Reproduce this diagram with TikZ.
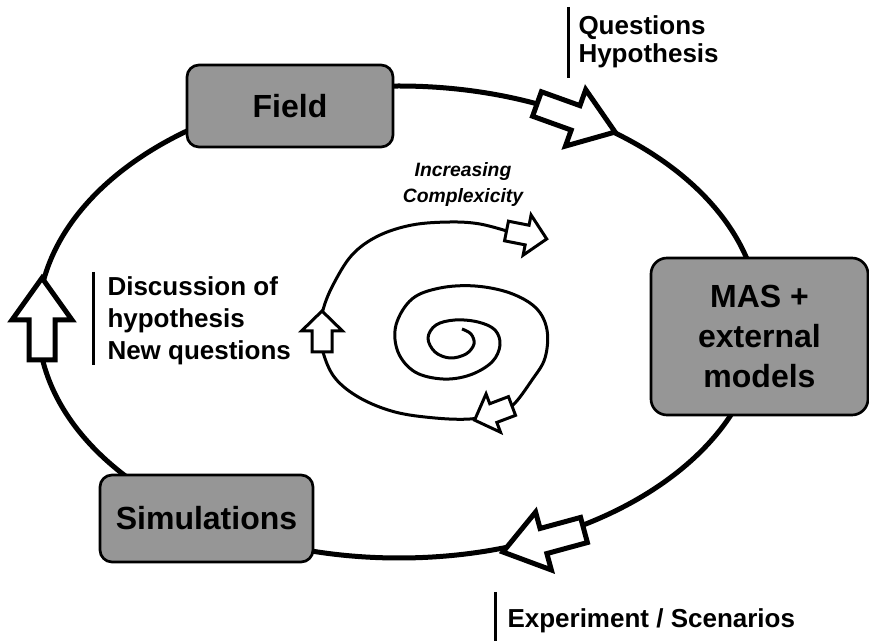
\documentclass[tikz,border=0pt]{standalone}
\usepackage{fontspec}
\setmainfont{Liberation Sans}
\definecolor{boxgray}{RGB}{150,150,150}

\tikzset{every picture/.style={line width=0.75pt}}
\tikzset{
  stagebox/.style={draw, line width=2pt, fill=boxgray, rounded corners=9pt, align=center,
    font=\fontsize{24}{30}\selectfont\bfseries},
  bartext/.style={anchor=base west, inner sep=0pt, font=\fontsize{19.5}{24}\selectfont\bfseries},
  barline/.style={line width=2.25pt},
  cycleline/.style={line width=3.75pt},
  spiralline/.style={line width=2.25pt},
}
% hollow block arrow: tail, angle, length, head length, shaft half width, head half width, line width
\newcommand{\hollowarrow}[7]{%
  \draw[line width=#7, fill=white, line join=miter, shift={(#1)}, rotate=#2]
    (0,-#5) -- ({#3-#4},-#5) -- ({#3-#4},-#6) -- (#3,0) -- ({#3-#4},#6) -- ({#3-#4},#5) -- (0,#5) -- cycle;}

\begin{document}
\begin{tikzpicture}[x=0.75pt,y=0.75pt,yscale=-1,xscale=1]
\useasboundingbox (0,0) rectangle (869,641);

%Shape: Ellipse (research cycle)
\draw[cycleline] (399,322) ellipse [x radius=361, y radius=236];

%Stages
\node[stagebox, minimum width=154.5pt, minimum height=61.5pt] (field) at (290,106) {Field};
\node[stagebox, rounded corners=12pt, minimum width=162.75pt, minimum height=117.75pt] (mas) at (759.5,336.5) {MAS +\\external\\models};
\node[stagebox, minimum width=159.75pt, minimum height=65.25pt] (simu) at (206.5,518.5) {Simulations};

%Cycle arrows
\hollowarrow{537,104}{19.75}{83}{42}{13}{30}{3.75pt}
\hollowarrow{584,530}{164.8}{84}{42}{13}{30}{3.75pt}
\hollowarrow{42,360}{-90}{82}{42}{13}{30}{3.75pt}

%Spiral
\draw[spiralline, line join=round] plot[smooth, tension=0.6] coordinates {
  (462,329) (471,334) (474,344) (466,354) (450,358) (435,352) (428,338) (436,325) (455,320)
  (478,322) (495,330) (500,345) (492,362) (470,375) (443,379) (415,372) (398,352) (396,325)
  (412,299) (440,288) (475,286) (510,293) (536,308) (547,330) (545,358) (532,380) (512,406)
  (493,414) (470,419) (435,418) (395,412) (360,398) (335,378) (323,352) (321,330) (323,310)
  (333,285) (352,255) (378,236) (412,225) (450,222) (480,224) (510,232)};
\hollowarrow{506.5,231}{11.2}{41}{20}{10}{20.5}{2.25pt}
\hollowarrow{322,352}{-90}{41}{20}{10}{20.5}{2.25pt}
\hollowarrow{512,406}{159.3}{40}{20}{10}{20.5}{2.25pt}

% Text Node
\node[anchor=base, inner sep=0pt, font=\fontsize{14.5}{19}\selectfont\bfseries\itshape] (inc1) at (463,177) {Increasing};
\node[anchor=base, inner sep=0pt, font=\fontsize{14.5}{19}\selectfont\bfseries\itshape] (inc2) at (463,203) {Complexicity};

%Side notes
\draw[barline] (568,7) -- (568,78);
\node[bartext] (q1) at (578,35) {Questions};
\node[bartext] (q2) at (578,63) {Hypothesis};

\draw[barline] (93,272) -- (93,365);
\node[bartext] (d1) at (107,296) {Discussion of};
\node[bartext] (d2) at (107,328) {hypothesis};
\node[bartext] (d3) at (107,360) {New questions};

\draw[barline] (495,592) -- (495,641);
\node[bartext] (e1) at (507,628) {Experiment / Scenarios};

\end{tikzpicture}
\end{document}
